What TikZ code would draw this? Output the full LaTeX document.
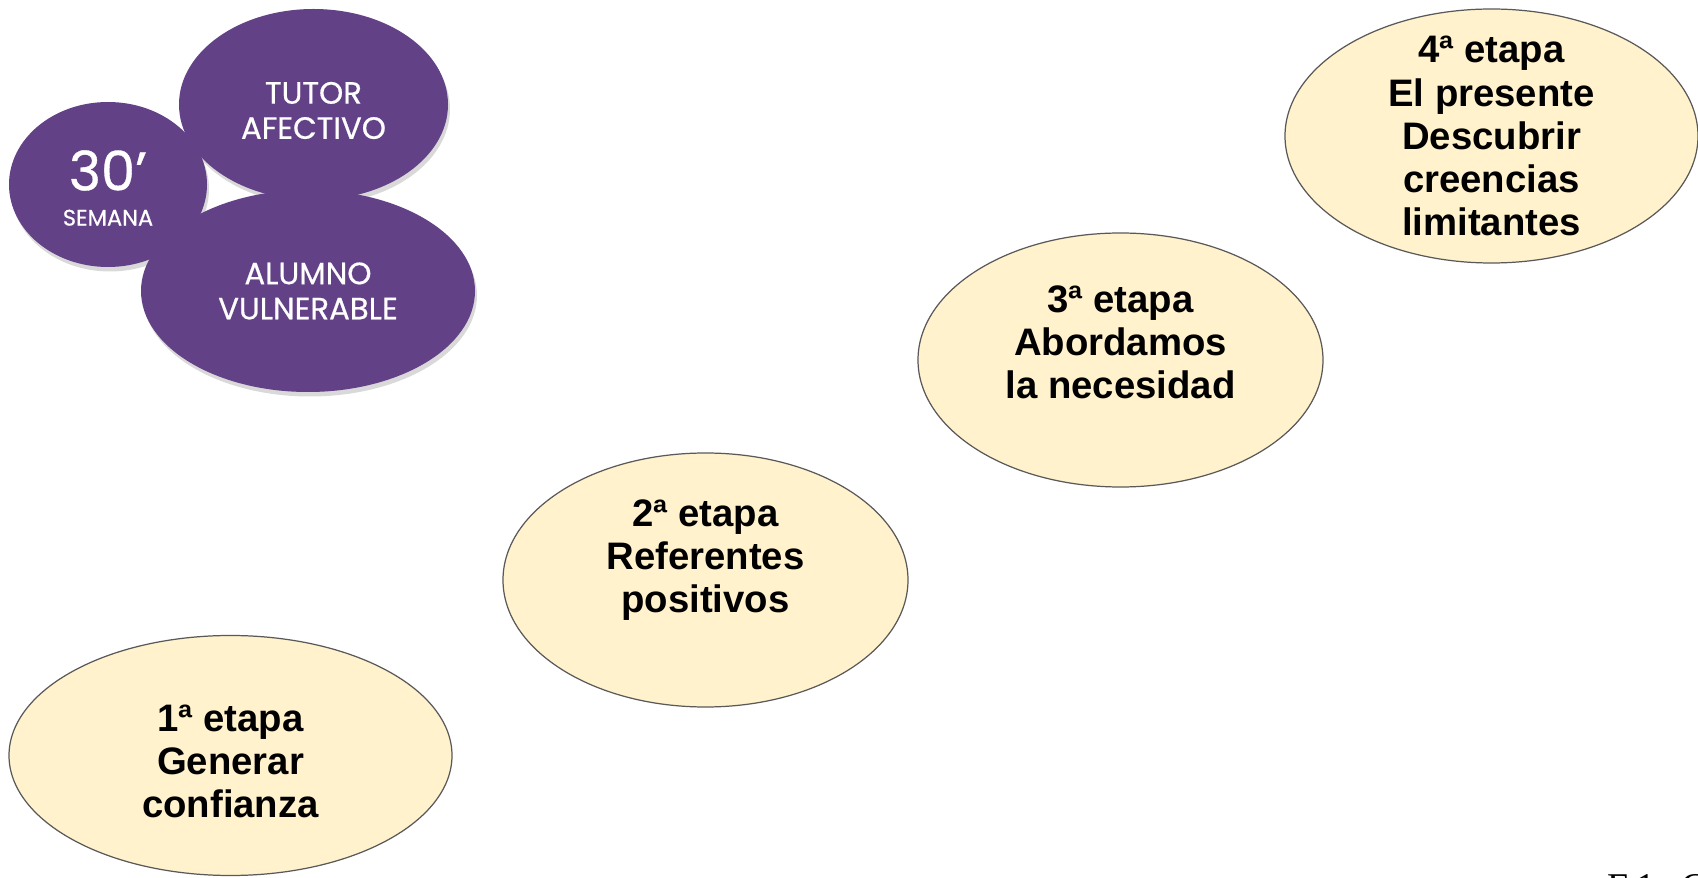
\documentclass[tikz,border=0pt]{standalone}
\usepackage{fontspec}
\setmainfont{Liberation Sans}
\newfontfamily\roundfont{Poppins}[FakeBold=0.6]
\newfontfamily\printfont{Liberation Serif}
\usetikzlibrary{positioning,shapes.geometric,shadows}
\definecolor{grape}{RGB}{99,65,134}
\definecolor{cream}{RGB}{255,242,204}
\definecolor{slate}{RGB}{89,89,89}
\tikzset{
  bubble/.style={ellipse,fill=grape,inner sep=0pt,
    drop shadow={opacity=0.3,shadow xshift=0.4mm,shadow yshift=-0.9mm}},
  bubble text/.style={text=white,align=center,font=\roundfont\fontsize{17.5}{20}\selectfont},
  stage/.style={ellipse,draw=slate,fill=cream,line width=0.7pt,inner sep=0pt},
  stage text/.style={align=center,font=\bfseries\fontsize{21.8}{24.5}\selectfont},
}

\begin{document}
\begin{tikzpicture}
    \useasboundingbox (0,0) rectangle (33.96,17.54);
    % purple group
    \node[bubble,minimum width=5.38cm,minimum height=3.82cm] (tutor) at (6.27,15.45) {};
    \node[bubble,minimum width=3.96cm,minimum height=3.30cm] (week) at (2.16,13.85) {};
    \node[bubble,minimum width=6.68cm,minimum height=4.04cm] (pupil) at (6.16,11.72) {};
    \node[bubble text] (tutor text) at ([yshift=-1.2mm]tutor) {TUTOR\\AFECTIVO};
    \node[bubble text] (week text) at ([yshift=-0.7mm]week)
      {{\fontsize{31}{34}\selectfont 30’}\\[0pt]{\fontsize{12.8}{14}\selectfont SEMANA}};
    \node[bubble text] (pupil text) at (pupil) {ALUMNO\\VULNERABLE};
    % stages
    \node[stage,minimum width=8.86cm,minimum height=4.80cm] (s1) at (4.61,2.43) {};
    \node[stage,minimum width=8.10cm,minimum height=5.08cm] (s2) at (14.11,5.94) {};
    \node[stage,minimum width=8.10cm,minimum height=5.08cm] (s3) at (22.41,10.34) {};
    \node[stage,minimum width=8.26cm,minimum height=5.08cm] (s4) at (29.83,14.82) {};
    \node[stage text] (t1) at ([yshift=-1.2mm]s1) {1ª etapa\\Generar\\confianza};
    \node[stage text] (t2) at ([yshift=4mm]s2) {2ª etapa\\Referentes\\positivos};
    \node[stage text] (t3) at ([yshift=3.6mm]s3) {3ª etapa\\Abordamos\\la necesidad};
    \node[stage text] (t4) at (s4) {4ª etapa\\El presente\\Descubrir\\creencias\\limitantes};
    \node[font=\printfont\fontsize{21.5}{22}\selectfont,anchor=base west,inner sep=0pt] (cut) at (32.14,-0.44)
      {E\hspace{0.16em}1\hspace{0.68em}C};
  \end{tikzpicture}
\end{document}
